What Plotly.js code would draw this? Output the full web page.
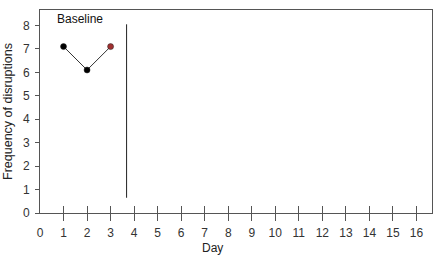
<!DOCTYPE html>
<html>
<head>
<meta charset="utf-8">
<script src="https://cdn.plot.ly/plotly-3.0.1.min.js"></script>
<style>html,body{margin:0;padding:0;background:#fff;}#chart{width:442px;height:256px;}</style>
</head>
<body>
<div id="chart"></div>
<script>
// Data
const days = [1, 2, 3];
const disruptions = [7.1, 6.1, 7.1];
const markerColors = ['#000000', '#000000', '#a03030'];
const phaseLineX = [3.68, 3.68];
const phaseLineY = [0.65, 8.05];
const xTickVals = [0,1,2,3,4,5,6,7,8,9,10,11,12,13,14,15,16];
const xTickMarks = [1,2,3,4,5,6,7,8,9,10,11,12,13,14,15,16];
const yTickVals = [0,1,2,3,4,5,6,7,8];
const phaseLabel = 'Baseline';
const phaseLabelPos = [1.69, 8.27];
const xTitle = 'Day';
const yTitle = 'Frequency of disruptions';

const font = {family: 'Liberation Sans, Arial, sans-serif', size: 12, color: '#333'};
const axisColor = '#555';

const traces = [
  {x: days, y: disruptions, type: 'scatter', mode: 'lines+markers',
   line: {color: '#333', width: 1},
   marker: {color: markerColors, size: 6, line: {color: '#222', width: 0.5}},
   xaxis: 'x', yaxis: 'y', hoverinfo: 'skip'},
  {x: phaseLineX, y: phaseLineY, type: 'scatter', mode: 'lines',
   line: {color: '#222', width: 1}, xaxis: 'x', yaxis: 'y', hoverinfo: 'skip'},
  {x: [], y: [], type: 'scatter', xaxis: 'x2', yaxis: 'y'},
  {x: [], y: [], type: 'scatter', xaxis: 'x3', yaxis: 'y'}
];

const xr = [0, 16.66];
const layout = {
  width: 442, height: 256,
  margin: {l: 40, r: 10, t: 10, b: 43},
  paper_bgcolor: '#fff', plot_bgcolor: '#fff',
  showlegend: false,
  font: font,
  xaxis: {range: xr, tickvals: xTickVals, ticktext: xTickVals.map(String),
          ticks: '', showgrid: false, zeroline: false,
          showline: true, linecolor: axisColor, linewidth: 1, mirror: true,
          ticklabelstandoff: 9, tickfont: font, fixedrange: true},
  xaxis2: {range: xr, overlaying: 'x', tickvals: xTickMarks, ticks: 'outside', ticklen: 7,
           tickcolor: axisColor, tickwidth: 1, showticklabels: false, showgrid: false,
           zeroline: false, showline: false},
  xaxis3: {range: xr, overlaying: 'x', tickvals: xTickMarks, ticks: 'inside', ticklen: 7,
           tickcolor: axisColor, tickwidth: 1, showticklabels: false, showgrid: false,
           zeroline: false, showline: false},
  yaxis: {range: [0, 8.66], tickvals: yTickVals, ticks: 'outside', ticklen: 4,
          tickcolor: axisColor, showgrid: false, zeroline: false,
          showline: true, linecolor: axisColor, linewidth: 1, mirror: true,
          tickfont: font, ticklabelstandoff: 3,
          title: {text: yTitle, font: {family: font.family, size: 12.5, color: '#222'}, standoff: 7}},
  annotations: [
    {x: phaseLabelPos[0], y: phaseLabelPos[1], xref: 'x', yref: 'y', text: phaseLabel,
     showarrow: false, font: {family: font.family, size: 12, color: '#111'}},
    {x: 7.34, y: -0.128, xref: 'x', yref: 'paper', text: xTitle, showarrow: false,
     yanchor: 'top', font: {family: font.family, size: 12, color: '#222'}}
  ]
};

Plotly.newPlot('chart', traces, layout, {staticPlot: true, displayModeBar: false});
</script>
</body>
</html>
